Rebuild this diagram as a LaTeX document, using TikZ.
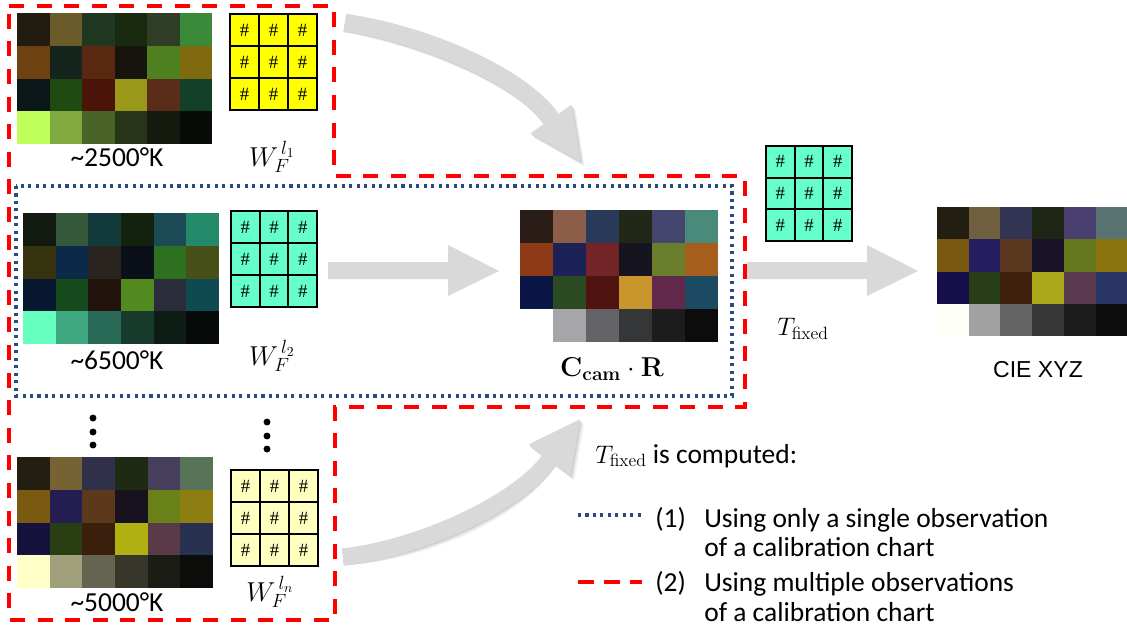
\RequirePackage{fix-cm}
\documentclass[tikz,border=0pt]{standalone}
\usepackage[no-math]{fontspec}
\setmainfont{Carlito}
\newfontfamily\arialfont{Liberation Sans}
\newfontfamily\hashfont{Liberation Serif}
\usetikzlibrary{calc}
\definecolor{arrowgray}{HTML}{D9D9D9}
\definecolor{shadowA}{HTML}{F3F3F3}
\definecolor{shadowB}{HTML}{E6E6E6}
\definecolor{shadowC}{HTML}{D0D0D0}
\definecolor{dashred}{HTML}{FF0000}
\definecolor{dotblue}{RGB}{38,76,128}
\definecolor{matyellow}{HTML}{FFFF00}
\definecolor{matgreen}{HTML}{66FFCC}
\definecolor{matpale}{HTML}{FFFFC0}

\newcommand{\colorchart}[6]{% #1 name, #2 x0, #3 y0, #4 w, #5 h, #6 colours
  \foreach \pc [count=\i from 0] in {#6} {%
    \pgfmathtruncatemacro\cc{mod(\i,6)}%
    \pgfmathtruncatemacro\rr{div(\i,6)}%
    \edef\tmp{\noexpand\definecolor{pc}{HTML}{\pc}}\tmp
    \fill[pc] ({#2+\cc*#4},{#3+\rr*#5}) rectangle ++({#4+0.3},{#5+0.3});
  }
  \coordinate (#1) at ({#2+3*#4},{#3+2*#5});
}
\newcommand{\wmat}[6]{% #1 name, #2 x0, #3 y0, #4 w, #5 h, #6 fill
  \fill[#6] (#2,#3) rectangle ++(#4,#5);
  \foreach \a in {0,1,2} {\foreach \b in {0,1,2} {
    \node[hashnode] (#1-\a-\b) at ({#2+(\a+0.5)*#4/3},{#3+(\b+0.5)*#5/3}) {\#};
  }}
  \foreach \k in {0,1,2,3} {
    \draw[matline] ({#2+\k*#4/3},#3) -- ++(0,#5);
    \draw[matline] (#2,{#3+\k*#5/3}) -- ++(#4,0);
  }
  \coordinate (#1) at ({#2+#4/2},{#3+#5/2});
}
\newcommand{\blockcurve}[4]{% #1 shaft, #2 head, #3 width, #4 colour
  \draw[#4, line width=#3] #1;
  \fill[#4] #2;
}

\begin{document}
\begin{tikzpicture}[x=0.75pt,y=-0.75pt,
  reddash/.style={draw=dashred, line width=2.6pt, dash pattern=on 11.3pt off 9.4pt},
  bluedot/.style={draw=dotblue, line width=2.3pt, dash pattern=on 2.3pt off 3.3pt},
  matline/.style={draw=black, line width=1.5pt, line cap=rect},
  hashnode/.style={inner sep=0, font=\hashfont\fontsize{14}{14}\selectfont},
  lbl/.style={inner sep=0, font=\fontsize{20.6}{24}\selectfont},
  mathlbl/.style={inner sep=0, font=\fontsize{20.5}{24}\selectfont},
  tlbl/.style={inner sep=0, font=\fontsize{19}{22}\selectfont},
  dot/.style={circle, fill=black, inner sep=0, minimum size=5.2pt},
]
\useasboundingbox (0,0) rectangle (1127,626);

% ---------- block arrows ----------
\coordinate (ta0) at (345,23);  \coordinate (ta1) at (551,119);
\coordinate (ba0) at (343,557); \coordinate (ba1) at (549.5,460);
\foreach \dx/\dy/\col in {4/5/shadowA, 3/3.5/shadowB, 1.5/2/shadowC, 0/0/arrowgray} {
  \begin{scope}[shift={(\dx,\dy)}]
    \blockcurve{(ta0) .. controls (420,33) and (519.6,73.9) .. (ta1)}
               {(571.5,104.7) -- (580.6,161.6) -- (530.5,133.3) -- cycle}{13.5pt}{\col}
    \blockcurve{(ba0) .. controls (420,548) and (516.5,504) .. (ba1)}
               {(570.3,475.6) -- (580,419.2) -- (528.7,444.4) -- cycle}{12.75pt}{\col}
  \end{scope}
}
\fill[arrowgray] (328,262) -- (448,262) -- (448,245) -- (499,271) -- (448,296) -- (448,279) -- (328,279) -- cycle;
\fill[arrowgray] (747,262) -- (867,262) -- (867,245) -- (918,271) -- (867,296) -- (867,279) -- (747,279) -- cycle;

% ---------- colour charts ----------
\colorchart{c1}{17}{13}{32.5}{32.75}{211C0F,6B5A2A,1F3620,1A2A0F,2F3D25,3A8A3A,6E4210,16241E,5A2810,16140C,4F8020,806A10,0A1617,1F4A12,4A1408,9A9818,5A2C1A,14402A,C0FF5A,80AA40,4A6428,283418,141A0E,080C06}
\colorchart{c2}{23}{213}{32.67}{32.75}{121A12,35573A,123A3A,12220F,1C4A55,228A68,363410,0C2A48,2A2420,0B1018,2C7020,465018,081830,164A1C,22140C,528A20,2A2C3A,0E4A50,66FFC0,40A880,286A55,183A2C,0E1C16,060A08}
\colorchart{c3}{17}{457}{32.67}{32.75}{231E10,766232,30304A,1F2A12,463E5A,587458,7A5A10,241E52,5C381C,18121E,6A8018,8E7E12,16123E,2A3E14,3A200C,B0B012,5A3A46,283250,FFFFC8,A0A07C,646450,36362A,1C1C16,0C0C0A}
\colorchart{c4}{520}{210}{33}{33}{2A1C16,8C5E4A,283A58,222818,444670,4A8A7A,8E3A16,1C2258,722426,16141E,6A7E2C,A65E1C,0C1646,2A4A22,501410,C8962C,62284C,1C4A62,FFFFFF,A6A6AA,646468,343638,1C1C1C,0C0C0C}
\colorchart{c5}{937}{207}{31.7}{32.25}{221E12,706040,323454,202616,4A4070,587470,785810,241E60,5A3820,1A1428,66781E,8A7410,140E4A,283E18,3E200C,AAA818,5C3A50,283464,FEFEF8,A2A2A2,646464,363636,1C1C1C,0C0C0C}

% ---------- matrices ----------
\wmat{m1}{230}{14}{87}{96}{matyellow}
\wmat{m2}{231}{211}{86}{96}{matgreen}
\wmat{m3}{231}{470}{87}{96}{matpale}
\wmat{m4}{766}{146}{86}{95}{matgreen}

% ---------- labels ----------
\node[lbl] (l1) at (117,157) {\textasciitilde 2500°K};
\node[lbl] (l2) at (117,360) {\textasciitilde 6500°K};
\node[lbl] (l3) at (117,602) {\textasciitilde 5000°K};
\node[mathlbl] (w1) at (272,157) {$W_F^{\,l_1}$};
\node[mathlbl] (w2) at (272,356) {$W_F^{\,l_2}$};
\node[mathlbl] (w3) at (270,592) {$W_F^{\,l_n}$};
\node[mathlbl] (cam) at (612,369) {$\mathbf{C}_{\mathbf{cam}}\cdot\mathbf{R}$};
\node[tlbl] (tfix) at (803,329) {$T_{\mathrm{fixed}}$};
\node[inner sep=0, font=\arialfont\fontsize{17.3}{20}\selectfont] (xyz) at (1038,370) {CIE XYZ};

% ellipsis dots
\node[dot] (d1) at (93,418) {};
\node[dot] (d2) at (93,432) {};
\node[dot] (d3) at (93,445) {};
\node[dot] (d4) at (267,422) {};
\node[dot] (d5) at (267,436) {};
\node[dot] (d6) at (267,449) {};

% ---------- legend ----------
\node[lbl, anchor=base west] (lg0) at (595,463) {{\fontsize{19}{22}\selectfont$T_{\mathrm{fixed}}$} is computed:};
\coordinate (lb0) at (578,515); \coordinate (lb1) at (642,515);
\coordinate (lr0) at (578,582); \coordinate (lr1) at (642,582);
\draw[bluedot] (lb0) -- (lb1);
\draw[reddash, dash pattern=on 12pt off 7.5pt] (lr0) -- (lr1);
\node[lbl, anchor=base west] (n1) at (655,527) {(1)};
\node[lbl, anchor=base west] (t1a) at (704,527) {Using only a single observation};
\node[lbl, anchor=base west] (t1b) at (704,556) {of a calibration chart};
\node[lbl, anchor=base west] (n2) at (655,591) {(2)};
\node[lbl, anchor=base west] (t2a) at (704,591) {Using multiple observations};
\node[lbl, anchor=base west] (t2b) at (704,621) {of a calibration chart};

% ---------- outlines ----------
\draw[bluedot] (16,186) rectangle (732,396);
\draw[reddash] (9,6) -- (334,6) -- (334,176) -- (745,176) -- (745,407) -- (335,407) -- (335,620) -- (9,620) -- cycle;
\end{tikzpicture}
\end{document}
